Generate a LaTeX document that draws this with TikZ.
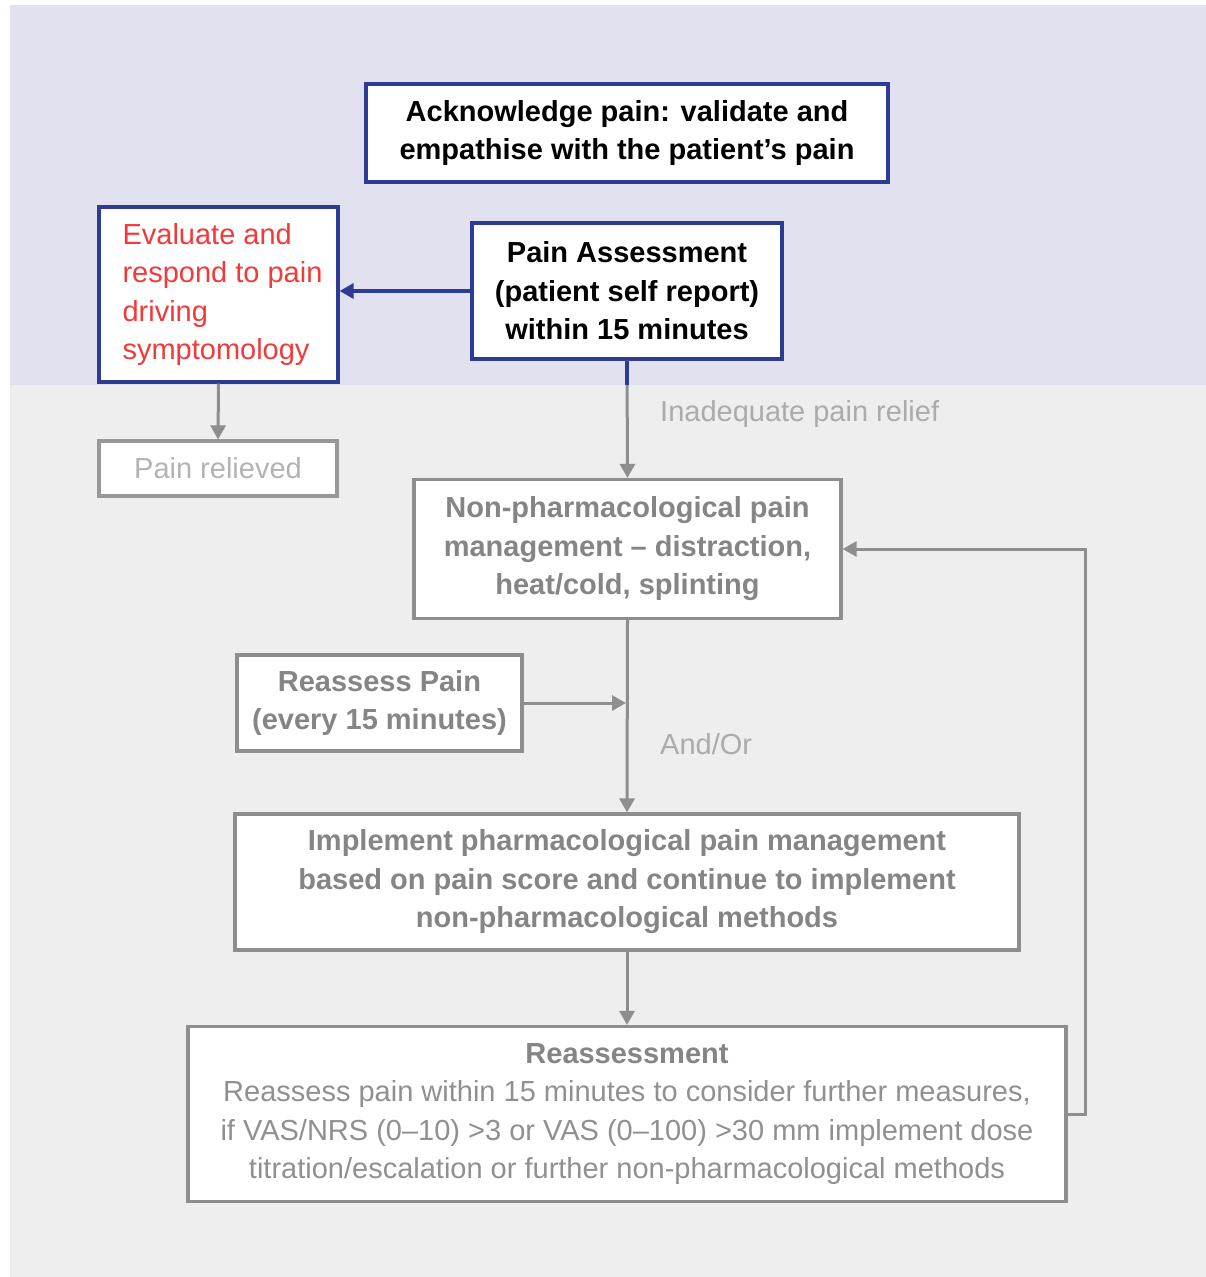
\documentclass[tikz,border=0pt]{standalone}
\usepackage{fontspec}
\setmainfont{Liberation Sans}
\usetikzlibrary{arrows.meta}

\definecolor{panelblue}{HTML}{E1E1EF}
\definecolor{panelgrey}{HTML}{EEEEEE}
\definecolor{boxblue}{HTML}{2E3B93}
\definecolor{alertred}{HTML}{F23A3A}
\definecolor{boxgrey}{HTML}{8E8E8E}
\definecolor{headgrey}{HTML}{858585}
\definecolor{bodygrey}{HTML}{909090}
\definecolor{notegrey}{HTML}{ABABAB}
\definecolor{fadegrey}{HTML}{B3B3B3}

\tikzset{
  basebox/.style={draw, fill=white, line width=3.2pt, inner sep=0pt,
    align=center, font={\fontsize{29}{38.5}\selectfont}},
  bluebox/.style={basebox, draw=boxblue, text=black, font={\fontsize{29}{38.5}\selectfont\bfseries}},
  greybox/.style={basebox, draw=boxgrey, text=headgrey, font={\fontsize{29}{38.5}\selectfont\bfseries}},
  note/.style={anchor=west, inner sep=0pt, text=notegrey, font={\fontsize{29}{38.5}\selectfont}},
  greyarrow/.style={draw=boxgrey, line width=3pt, -{Triangle[length=14pt,width=15pt]}},
  bluearrow/.style={draw=boxblue, line width=3.2pt, -{Triangle[length=14pt,width=15pt]}},
  blueline/.style={draw=boxblue, line width=3.2pt}
}

\begin{document}
\begin{tikzpicture}[x=1pt,y=-1pt]
  \useasboundingbox (0,0) rectangle (1206,1277);
  % two background panels
  \fill[panelblue] (10,5) rectangle (1206,385);
  \fill[panelgrey] (10,385) rectangle (1206,1277);

  % boxes
  \node[bluebox, minimum width=522pt, minimum height=98pt] (ack) at (627,133)
    {Acknowledge pain: validate and\\empathise with the patient’s pain};
  \node[bluebox, minimum width=310pt, minimum height=136pt] (assess) at (627,291)
    {Pain Assessment\\(patient self report)\\within 15 minutes};
  \node[basebox, draw=boxblue, text=alertred, align=left,
        minimum width=239pt, minimum height=175pt] (evaluate) at (218.5,294.5)
    {\hspace*{8pt}Evaluate and\\\hspace*{8pt}respond to pain\\\hspace*{8pt}driving\\\hspace*{8pt}symptomology};
  \node[basebox, draw=fadegrey!85!black, text=fadegrey,
        minimum width=238pt, minimum height=55pt] (relieved) at (218,468.5)
    {Pain relieved};
  \node[greybox, minimum width=427pt, minimum height=139pt] (nonpharm) at (627.5,549)
    {Non-pharmacological pain\\management – distraction,\\heat/cold, splinting};
  \node[greybox, minimum width=285pt, minimum height=96pt] (repeat) at (379.5,703)
    {Reassess Pain\\(every 15 minutes)};
  \node[greybox, minimum width=784pt, minimum height=136pt] (pharm) at (627,882)
    {Implement pharmacological pain management\\based on pain score and continue to implement\\non-pharmacological methods};
  \node[basebox, draw=boxgrey, text=bodygrey,
        minimum width=878pt, minimum height=175pt] (reassess) at (627,1114)
    {{\bfseries\color{headgrey}Reassessment}\\
     Reassess pain within 15 minutes to consider further measures,\\
     if VAS/NRS (0–10) >3 or VAS (0–100) >30 mm implement dose\\
     titration/escalation or further non-pharmacological methods};

  % connector labels
  \node[note] (inadequate) at (660,414) {Inadequate pain relief};
  \node[note] (andor) at (660,744) {And/Or};

  % helper points
  \coordinate (split) at (0,385);
  \coordinate (loop) at (1085,0);

  % connectors
  \draw[bluearrow] (assess.west) -- (assess.west -| evaluate.east);
  \draw[greyarrow] (evaluate.south) -- (relieved.north);
  \draw[greyarrow] (assess.south) -- (nonpharm.north);
  \draw[blueline] (assess.south) -- (assess.south |- split);
  \draw[greyarrow] (nonpharm.south) -- (pharm.north);
  \draw[greyarrow, shorten >=1.5pt] (repeat.east) -- (repeat.east -| nonpharm.south);
  \draw[greyarrow] (pharm.south) -- (reassess.north);
  \draw[greyarrow] (reassess.east) -- (reassess.east -| loop)
    -- (nonpharm.east -| loop) -- (nonpharm.east);
\end{tikzpicture}
\end{document}
